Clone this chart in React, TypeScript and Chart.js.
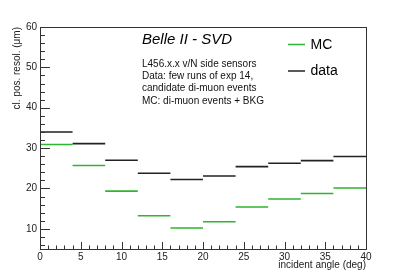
import React, { useEffect, useRef } from "react";
import { Chart, registerables } from "chart.js";

Chart.register(...registerables);

// Bin edges (incident angle, deg)
const binEdges = [0, 4, 8, 12, 16, 20, 24, 28, 32, 36, 40];
// Cluster position resolution (μm)
const dataValues = [34.0, 31.1, 27.0, 23.75, 22.2, 23.1, 25.4, 26.25, 26.9, 27.9];
const mcValues = [30.9, 25.7, 19.35, 13.25, 10.2, 11.75, 15.4, 17.4, 18.75, 20.1];
const yTickValues = [10, 20, 30, 40, 50, 60];
const seriesLabels = ["MC", "data"];
const headerTitle = "Belle II - SVD";
const noteLines = [
  "L456.x.x v/N side sensors",
  "Data: few runs of exp 14,",
  "candidate di-muon events",
  "MC: di-muon events + BKG",
];
const xTitle = "incident angle (deg)";
const yTitle = "cl. pos. resol. (μm)";

const GREEN = "#2fb52f";
const BLACK = "#222222";
const FRAME = "#333333";
const FONT = "'Liberation Sans', Arial, Helvetica, sans-serif";

function histPoints(values: number[]) {
  const pts: { x: number; y: number | null }[] = [];
  values.forEach((v, i) => {
    pts.push({ x: binEdges[i], y: v });
    pts.push({ x: binEdges[i + 1], y: v });
    pts.push({ x: binEdges[i + 1], y: null });
  });
  return pts;
}

const framePlugin = {
  id: "rootFrame",
  afterDraw(chart: any) {
    const { ctx, chartArea } = chart;
    const xs = chart.scales.x;
    const ys = chart.scales.y;
    ctx.save();
    ctx.strokeStyle = FRAME;
    ctx.lineWidth = 1;
    ctx.strokeRect(
      Math.round(chartArea.left) + 0.5,
      Math.round(chartArea.top) + 0.5,
      Math.round(chartArea.right - chartArea.left),
      Math.round(chartArea.bottom - chartArea.top)
    );
    ctx.beginPath();
    // y ticks (inward)
    for (let v = 6; v <= 60; v += 2) {
      const py = Math.round(ys.getPixelForValue(v)) + 0.5;
      const len = v % 10 === 0 ? 10 : 5;
      ctx.moveTo(chartArea.left, py);
      ctx.lineTo(chartArea.left + len, py);
    }
    // x ticks (inward)
    for (let v = 0; v <= 40; v += 1) {
      const px = Math.round(xs.getPixelForValue(v)) + 0.5;
      const len = v % 5 === 0 ? 7 : 3.5;
      ctx.moveTo(px, chartArea.bottom);
      ctx.lineTo(px, chartArea.bottom - len);
    }
    ctx.stroke();

    // header text
    ctx.fillStyle = "#000";
    ctx.textBaseline = "alphabetic";
    ctx.textAlign = "left";
    ctx.font = `italic 15px ${FONT}`;
    ctx.fillText(headerTitle, 142, 44);
    ctx.font = `10px ${FONT}`;
    ctx.fillStyle = "#111";
    noteLines.forEach((t, i) => {
      ctx.fillText(t, 142, 66.5 + i * 12.4);
    });

    // legend
    const legendColors = [GREEN, BLACK];
    const legendY = [44.5, 71];
    ctx.font = `14px ${FONT}`;
    seriesLabels.forEach((lab, i) => {
      ctx.strokeStyle = legendColors[i];
      ctx.lineWidth = 1.5;
      ctx.beginPath();
      ctx.moveTo(288, legendY[i]);
      ctx.lineTo(305, legendY[i]);
      ctx.stroke();
      ctx.fillStyle = "#000";
      ctx.textBaseline = "middle";
      ctx.fillText(lab, 310.5, legendY[i] + 0.5);
    });
    ctx.restore();
  },
};

export default function App() {
  const ref = useRef<HTMLCanvasElement | null>(null);
  useEffect(() => {
    if (!ref.current) return;
    const chart = new Chart(ref.current, {
      type: "line",
      data: {
        datasets: [
          {
            label: seriesLabels[0],
            data: histPoints(mcValues),
            borderColor: GREEN,
            borderWidth: 1.6,
            pointRadius: 0,
            spanGaps: false,
            tension: 0,
          },
          {
            label: seriesLabels[1],
            data: histPoints(dataValues),
            borderColor: BLACK,
            borderWidth: 1.6,
            pointRadius: 0,
            spanGaps: false,
            tension: 0,
          },
        ],
      },
      options: {
        animation: false,
        responsive: false,
        events: [],
        layout: { padding: { top: 27, right: 41, left: 0, bottom: 0 } },
        plugins: { legend: { display: false }, tooltip: { enabled: false } },
        scales: {
          x: {
            type: "linear",
            min: 0,
            max: 40,
            border: { display: false },
            grid: { display: false, drawTicks: false },
            ticks: {
              stepSize: 5,
              padding: 2,
              maxRotation: 0,
              autoSkip: false,
              color: "#222",
              font: { family: FONT, size: 10 },
            },
            title: {
              display: true,
              text: xTitle,
              align: "end",
              color: "#222",
              font: { family: FONT, size: 10 },
              padding: { top: 0, bottom: 6 },
            },
            afterFit: (s: any) => {
              s.height = 28;
            },
          },
          y: {
            type: "linear",
            min: 5,
            max: 60,
            border: { display: false },
            grid: { display: false, drawTicks: false },
            afterBuildTicks: (s: any) => {
              s.ticks = yTickValues.map((v) => ({ value: v }));
            },
            ticks: {
              padding: 3,
              color: "#222",
              font: { family: FONT, size: 10 },
            },
            title: {
              display: true,
              text: yTitle,
              align: "end",
              color: "#222",
              font: { family: FONT, size: 10 },
              padding: { top: 11, bottom: 0 },
            },
            afterFit: (s: any) => {
              s.width = 40;
            },
          },
        },
      },
      plugins: [framePlugin],
    });
    return () => chart.destroy();
  }, []);
  return (
    <div style={{ position: "absolute", left: 0, top: 0, width: 407, height: 277, background: "#fff" }}>
      <canvas ref={ref} width={407} height={277} style={{ display: "block" }} />
    </div>
  );
}
